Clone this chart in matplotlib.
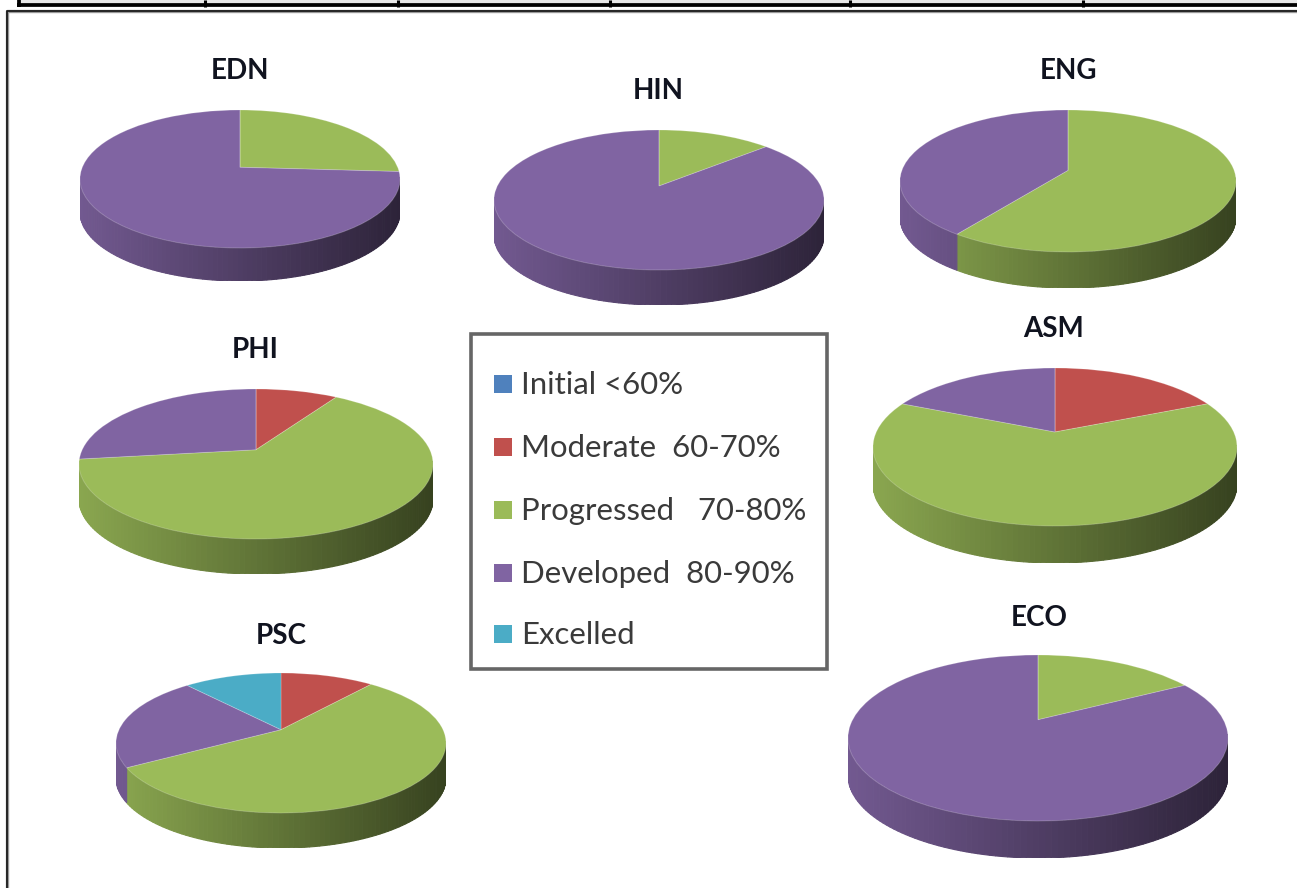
import numpy as np
import matplotlib
matplotlib.use('Agg')
import matplotlib.pyplot as plt
from matplotlib.patches import Polygon, Rectangle
from matplotlib.transforms import Transform

W, H = 1297, 888

# data, percent of each band per subject
subjects = ['EDN', 'HIN', 'ENG', 'PHI', 'ASM', 'PSC', 'ECO']
initial = [0, 0, 0, 0, 0, 0, 0]
moderate = [0, 0, 0, 9, 18.5, 11, 0]
progressed = [26, 13.5, 60, 64, 63, 55.5, 17]
developed = [74, 86.5, 40, 27, 18.5, 22, 83]
excelled = [0, 0, 0, 0, 0, 11.5, 0]

labels = ['Initial <60%', 'Moderate  60-70%', 'Progressed   70-80%', 'Developed  80-90%', 'Excelled']
colors = ['#4f81bd', '#c0504d', '#9bbb59', '#8064a2', '#4bacc6']

# layout in picture pixels: centre x, centre y, rx, ry, depth, tilt, title x, title y
layout = {
    'EDN': (240, 179, 160, 69, 33, 0.17, 240, 71),
    'HIN': (659, 200, 165, 70, 35, 0.20, 658, 91),
    'ENG': (1068, 181, 168, 71, 36, 0.15, 1068, 71),
    'PHI': (256, 464, 177, 75, 35, 0.19, 255, 350),
    'ASM': (1055, 447, 182, 79, 37, 0.19, 1054, 329),
    'PSC': (281, 743, 165, 70, 35, 0.19, 281, 636),
    'ECO': (1038, 738, 190, 83, 37, 0.22, 1039, 618),
}


class Tilt(Transform):
    # perspective of the disc: keeps the unit circle, moves its centre up
    input_dims = 2
    output_dims = 2

    def __init__(self, a):
        super().__init__()
        self.a = a

    def transform_non_affine(self, values):
        values = np.asarray(values)
        x, y = values[:, 0], values[:, 1]
        d = 1 + self.a * y
        return np.column_stack([x * np.sqrt(1 - self.a ** 2) / d, (y + self.a) / d])


def draw_side(ax, vals, cols, a, drop):
    tilt = Tilt(a)
    total = sum(vals)
    start = 0
    for v, c in zip(vals, cols):
        if v > 0:
            steps = max(int(v / total * 240), 2)
            t = np.linspace(start, start + v, steps + 1) / total * 2 * np.pi
            pts = tilt.transform_non_affine(np.column_stack([np.sin(t), np.cos(t)]))
            rgb = np.array(matplotlib.colors.to_rgb(c))
            for i in range(steps):
                p, q = pts[i], pts[i + 1]
                if p[1] > 0.02 and q[1] > 0.02:
                    continue
                # lit from the left, dark on the right
                shade = 0.62 - 0.27 * (p[0] + q[0]) / 2
                ax.add_patch(Polygon([p, q, (q[0], q[1] - drop), (p[0], p[1] - drop)],
                                     facecolor=rgb * shade, edgecolor=rgb * shade, lw=0.8, zorder=1))
        start += v


fig = plt.figure(figsize=(W / 100, H / 100), dpi=100)
plt.rcParams['font.family'] = ['Lato', 'DejaVu Sans']

bg = fig.add_axes([0, 0, 1, 1])
bg.set_xlim(0, W)
bg.set_ylim(H, 0)
bg.axis('off')

# table stub above and the frame round the chart
bg.add_patch(Rectangle((19, 0), W - 19, 4, facecolor='#e8e8e8', edgecolor='none'))
bg.plot([17, W], [5.5, 5.5], color='black', lw=2.7, solid_capstyle='butt')
bg.plot([19, 19], [0, 7], color='black', lw=2.7, solid_capstyle='butt')
for x in [205, 398, 610, 850, 1083]:
    bg.plot([x, x], [0, 7], color='black', lw=2.2, solid_capstyle='butt')
bg.plot([7, 7, W], [H, 11.5, 11.5], color='#999999', lw=2.4)
bg.plot([7, 7, W], [H, 11, 11], color='#1c1c1c', lw=1.3)

for i, name in enumerate(subjects):
    cx, cy, rx, ry, depth, a, tx, ty = layout[name]
    vals = [initial[i], moderate[i], progressed[i], developed[i], excelled[i]]
    # pie runs clockwise from the top, Excelled comes last so it sits left of the top
    ax = fig.add_axes([(cx - rx) / W, 1 - (cy + ry + depth) / H, 2 * rx / W, (2 * ry + depth) / H])
    ax.patch.set_alpha(0)
    draw_side(ax, vals, colors, a, depth / ry)
    wedges, _ = ax.pie(vals, colors=colors, startangle=90, counterclock=False, radius=1,
                       wedgeprops={'linewidth': 0.7, 'edgecolor': (1, 1, 1, 0.2), 'zorder': 2})
    for w in wedges:
        w.set_transform(Tilt(a) + ax.transData)
    ax.set_aspect('auto')
    ax.set_xlim(-1, 1)
    ax.set_ylim(-1 - depth / ry, 1)
    ax.axis('off')
    bg.text(tx, ty, name, ha='center', va='center', fontsize=20, fontweight='bold', color='#10131f')

# legend box
bg.add_patch(Rectangle((471, 334), 356, 335, facecolor='white', edgecolor='#666666', lw=2.6, zorder=3))
rows = [384, 447, 510, 573, 634]
for y, lab, c in zip(rows, labels, colors):
    bg.add_patch(Rectangle((494, y - 9), 18, 18, facecolor=c, edgecolor='none', zorder=4))
    bg.text(521, y + 1, lab, ha='left', va='center', fontsize=22.4, color='#3a3a3a', zorder=4)

fig.savefig('out.png', dpi=100)
